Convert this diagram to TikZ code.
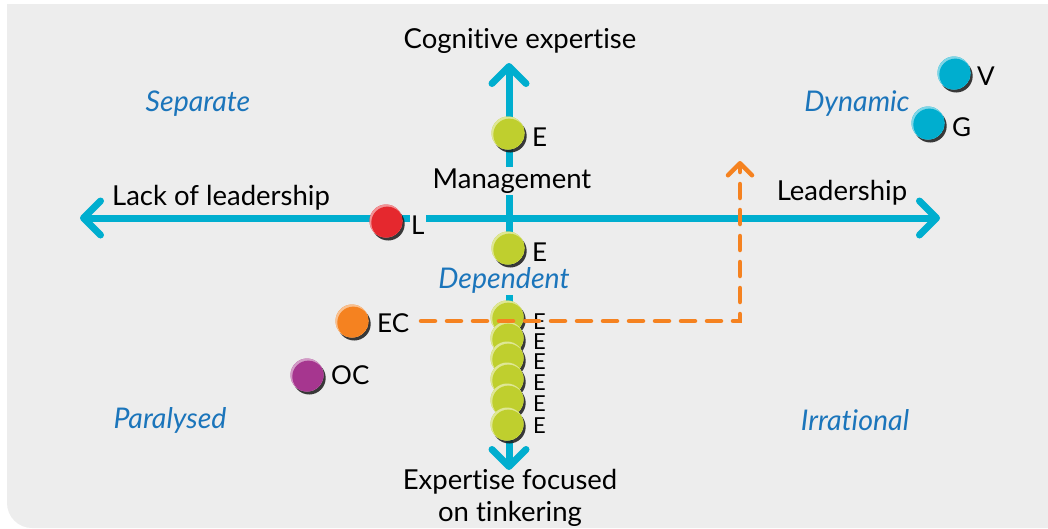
\documentclass[tikz,border=0pt]{standalone}
\usepackage{fontspec}
\setmainfont{Lato}[Ligatures={NoCommon}]
\usetikzlibrary{arrows.meta,shadows}
\definecolor{bg}{HTML}{EDEDED}
\definecolor{axiscol}{HTML}{00AECF}
\definecolor{qblue}{HTML}{1B75BB}
\definecolor{egreen}{HTML}{BFCF2E}
\definecolor{lred}{HTML}{E5282E}
\definecolor{eorange}{HTML}{F58220}
\definecolor{opurple}{HTML}{A6368F}
\definecolor{gcyan}{HTML}{00AECF}
\tikzset{
  ball/.style={circle, minimum size=33pt, inner sep=0pt, fill=#1,
    drop shadow={shadow xshift=2.2pt, shadow yshift=-3pt, opacity=0.85, fill=black!90},
    path picture={
      \fill[#1!50!white] (path picture bounding box.center) circle[radius=17pt];
      \fill[#1] ([shift={(1.3pt,-1.6pt)}]path picture bounding box.center) circle[radius=16pt];
    }},
  lab/.style={font=\fontsize{26}{28}\selectfont, inner sep=1pt, anchor=west},
  clab/.style={font=\fontsize{22}{24}\selectfont, inner sep=0pt, anchor=west},
  axtext/.style={font=\fontsize{27.5}{32}\selectfont, inner sep=2pt, text=black},
  quad/.style={font=\itshape\fontsize{28.5}{30}\selectfont, text=qblue, inner sep=2pt},
  axisline/.style={draw=axiscol, line width=7pt,
    arrows={Straight Barb[length=17pt,width=34pt,round]-Straight Barb[length=17pt,width=34pt,round]}},
  pathline/.style={draw=eorange, line width=4.5pt, line cap=round, dash pattern=on 14pt off 12pt,
    -{Straight Barb[length=12pt,width=24pt,round]}}
}
\begin{document}
\begin{tikzpicture}[x=1pt,y=-1pt]
\useasboundingbox (0,0) rectangle (1048,528);
\fill[bg] (7,4) -- (7,503) arc[start angle=180, end angle=90, radius=25] -- (1048,528) -- (1048,4) -- cycle;

% axes
\coordinate (hl) at (80,218);
\coordinate (hr) at (940,218);
\coordinate (vt) at (509,63);
\coordinate (vb) at (509,470);
\draw[axisline] (hl) -- (hr);
\draw[axisline] (vb) -- (vt);

% axis labels
\node[axtext] (cog) at (520,41) {Cognitive expertise};
\node[axtext] (lack) at (221,198) {Lack of leadership};
\node[axtext] (lead) at (842,193) {Leadership};
\node[axtext, fill=bg] (mgmt) at (512,181) {Management};
\node[axtext, align=center] (tink) at (510,498) {Expertise focused\\on tinkering};

% quadrant labels
\node[quad] (sep) at (198,104) {Separate};
\node[quad] (dyn) at (857,104) {Dynamic};
\node[quad, fill=bg] (dep) at (504,280) {Dependent};
\node[quad] (par) at (170,420) {Paralysed};
\node[quad] (irr) at (855,420) {Irrational};

% balls
\node[ball=egreen] (e1) at (508,133) {};
\node[lab] (e1l) at (531,137) {E};
\node[ball=lred] (l) at (386,221) {};
\node[lab, fill=bg] (ll) at (410,225) {L};
\node[ball=egreen] (e2) at (508,248) {};
\node[lab] (e2l) at (531,252) {E};

\node[ball=egreen] (c1) at (507,317) {};
\node[ball=egreen] (c2) at (507,338) {};
\node[ball=egreen] (c3) at (507,358) {};
\node[ball=egreen] (c4) at (507,379) {};
\node[ball=egreen] (c5) at (507,400) {};
\node[ball=egreen] (c6) at (507,424) {};
\node[clab] (c1l) at (533,322) {E};
\node[clab] (c2l) at (533,342) {E};
\node[clab] (c3l) at (533,362) {E};
\node[clab] (c4l) at (533,383) {E};
\node[clab] (c5l) at (533,404) {E};
\node[clab] (c6l) at (533,426) {E};

\node[ball=eorange] (ec) at (352,321) {};
\node[lab] (ecl) at (376,323) {EC};
\node[ball=opurple] (oc) at (307,375) {};
\node[lab] (ocl) at (330,375) {OC};
\node[ball=gcyan] (v) at (954,73) {};
\node[lab] (vl) at (976,76) {V};
\node[ball=gcyan] (g) at (928,123) {};
\node[lab] (gl) at (951,127) {G};

% dashed path
\coordinate (ds) at (421,321);
\coordinate (dc) at (740,321);
\coordinate (de) at (740,161);
\draw[pathline] (ds) -- (dc) -- (de);
\end{tikzpicture}
\end{document}
